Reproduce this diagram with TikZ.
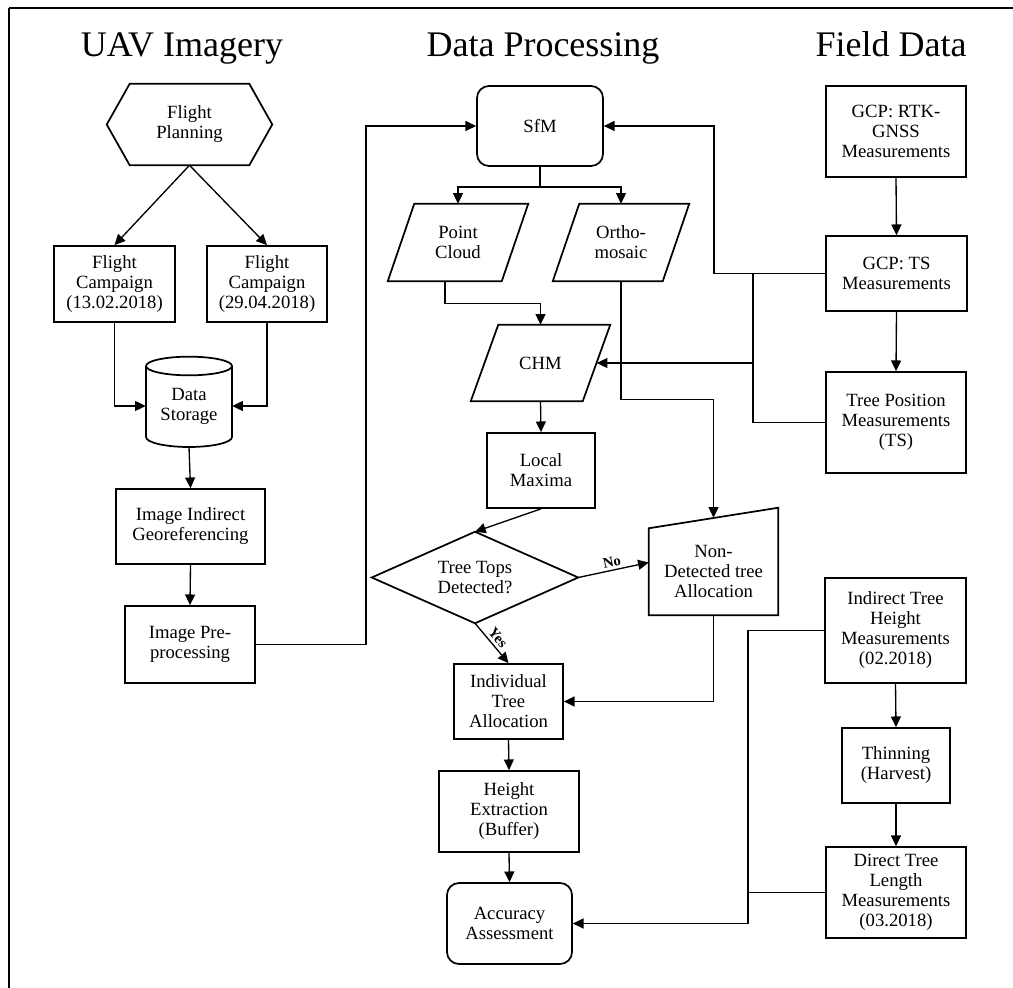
\documentclass[tikz,border=0pt]{standalone}
\usepackage{fontspec}
\setmainfont{Liberation Serif}
\usetikzlibrary{arrows.meta,calc}
\begin{document}
\begin{tikzpicture}[x=0.75pt,y=-0.75pt,
  every node/.style={font=\fontsize{14}{15}\selectfont, align=center, inner sep=0pt},
  wh/.style 2 args={minimum width=#1*0.75pt, minimum height=#2*0.75pt},
  box/.style={draw, line width=1.3pt},
  rbox/.style={draw, line width=1.3pt, rounded corners=9pt},
  shp/.style={line width=1.3pt},
  con/.style={line width=1pt},
  arr/.style={con, -{Triangle[length=8pt,width=7.5pt]}},
  title/.style={font=\fontsize{27}{30}\selectfont, anchor=base},
  lab/.style={font=\bfseries\fontsize{11}{12}\selectfont, inner sep=2pt}
]
\useasboundingbox (0,0) rectangle (1013,988);
% frame (top and left edges visible)
\draw[line width=1.5pt] (9,8) -- (1016,8);
\draw[line width=1.5pt] (9,8) -- (9,991);

% titles
\node[title] (t1) at (182,57) {UAV Imagery};
\node[title] (t2) at (543,57) {Data Processing};
\node[title] (t3) at (891,57) {Field Data};

% UAV imagery column
\node[wh={165}{81}] (fp) at (189.5,124.5) {Flight\\Planning};
\draw[shp] (fp.west) -- ($(fp.north west)+(23,0)$) -- ($(fp.north east)+(-23,0)$) -- (fp.east) -- ($(fp.south east)+(-23,0)$) -- ($(fp.south west)+(23,0)$) -- cycle;
\node[box, wh={121}{76}] (fc1) at (114.5,284) {Flight\\Campaign\\(13.02.2018)};
\node[box, wh={120}{76}] (fc2) at (267,284) {Flight\\Campaign\\(29.04.2018)};
\node[wh={86}{82}] (ds) at (189,406) {Data\\Storage};
\draw[shp] (146,366) -- (146,437) arc[start angle=180, end angle=360, x radius=32.25pt, y radius=7.5pt] -- (232,366);
\draw[shp] (189,366) ellipse [x radius=32.25pt, y radius=7pt];
\node[box, wh={149}{75}] (geo) at (190.5,526.5) {Image Indirect\\Georeferencing};
\node[box, wh={130}{77}] (pre) at (190,644.5) {Image Pre-\\processing};

% Data processing column
\node[rbox, wh={126}{80}] (sfm) at (540,126) {SfM};
\node[wh={140}{77}] (pc) at (458,242.5) {Point\\Cloud};
\draw[shp] (pc.south west) -- ++(114,0) -- (pc.north east) -- ++(-114,0) -- cycle;
\node[wh={136}{77}] (om) at (621,242.5) {Ortho-\\mosaic};
\draw[shp] (om.south west) -- ++(110,0) -- (om.north east) -- ++(-110,0) -- cycle;
\node[wh={139}{76}] (chm) at (540.5,363) {CHM};
\draw[shp] (chm.south west) -- ++(112,0) -- (chm.north east) -- ++(-112,0) -- cycle;
\node[box, wh={108}{75}] (lm) at (541,470.5) {Local\\Maxima};
\node[wh={206}{91}] (dm) at (475,577.5) {Tree Tops\\Detected?};
\draw[shp] (dm.west) -- (dm.north) -- (dm.east) -- (dm.south) -- cycle;
\node[wh={129}{87}] (nd) at (713.5,571.5) {Non-\\Detected tree\\Allocation};
\draw[shp] (nd.south west) -- ++(0,-87) -- ($(nd.north east)+(0,-20)$) -- (nd.south east) -- cycle;
\coordinate (ndin) at ($(nd.north)+(0,-10)$);
\coordinate (ndw) at ($(nd.west)+(0,-9)$);
\node[box, wh={109}{75}] (ita) at (508.5,701.5) {Individual\\Tree\\Allocation};
\node[box, wh={140}{81}] (he) at (509,811.5) {Height\\Extraction\\(Buffer)};
\node[rbox, wh={125}{81}] (acc) at (509.5,923.5) {Accuracy\\Assessment};

% Field data column
\node[box, wh={140}{91}] (rtk) at (896,131.5) {GCP: RTK-\\GNSS\\Measurements};
\node[box, wh={141}{75}] (ts) at (896.5,273.5) {GCP: TS\\Measurements};
\node[box, wh={140}{101}] (tp) at (896,422.5) {Tree Position\\Measurements\\(TS)};
\node[box, wh={141}{105}] (ith) at (895.5,630.5) {Indirect Tree\\Height\\Measurements\\(02.2018)};
\node[box, wh={108}{75}] (th) at (896,765.5) {Thinning\\(Harvest)};
\node[box, wh={140}{91}] (dtl) at (896,892.5) {Direct Tree\\Length\\Measurements\\(03.2018)};

% bus x-positions
\coordinate (bA) at (366,0);
\coordinate (bB) at (714,0);
\coordinate (bC) at (753,0);
\coordinate (bD) at (748,0);

% connectors
\draw[arr] (fp.south) -- (fc1.north);
\draw[arr] (fp.south) -- (fc2.north);
\draw[arr] (fc1.south) |- (ds.west);
\draw[arr] (fc2.south) |- (ds.east);
\draw[arr] (ds.south) -- (geo.north);
\draw[arr] (geo.south) -- (pre.north);
\draw[arr] (pre.east) -- (pre.east -| bA) -- (sfm.west -| bA) -- (sfm.west);
\coordinate (sj) at ($(sfm.south)+(0,20)$);
\draw[con] (sfm.south) -- (sj);
\draw[arr] (sj) -| (pc.north);
\draw[arr] (sj) -| (om.north);
\draw[arr] ($(pc.south)+(-13,0)$) -- ++(0,22) -| (chm.north);
\draw[arr] (om.south) -- ++(0,118) -| (ndin);
\draw[arr] (ts.west) -- (ts.west -| bB) -- (sfm.east -| bB) -- (sfm.east);
\draw[con] (ts.west -| bC) -- (tp.west -| bC) -- (tp.west);
\draw[arr] (chm.east -| bC) -- ($(chm.east)+(-13.5,0)$);
\draw[arr] (rtk.south) -- (ts.north);
\draw[arr] (ts.south) -- (tp.north);
\draw[arr] (chm.south) -- (lm.north);
\draw[arr] (lm.south) -- (dm.north);
\draw[arr] (dm.east) -- node[lab, above, sloped] {No} (ndw);
\draw[arr] (dm.south) -- node[lab, above, sloped, pos=0.5] {Yes} (ita.north);
\draw[arr] (nd.south) |- (ita.east);
\draw[arr] (ita.south) -- (he.north);
\draw[arr] (he.south) -- (acc.north);
\draw[arr] (ith.west) -- (ith.west -| bD) -- (acc.east -| bD) -- (acc.east);
\draw[con] (dtl.west) -- (dtl.west -| bD);
\draw[arr] (ith.south) -- (th.north);
\draw[arr] (th.south) -- (dtl.north);
\end{tikzpicture}
\end{document}
